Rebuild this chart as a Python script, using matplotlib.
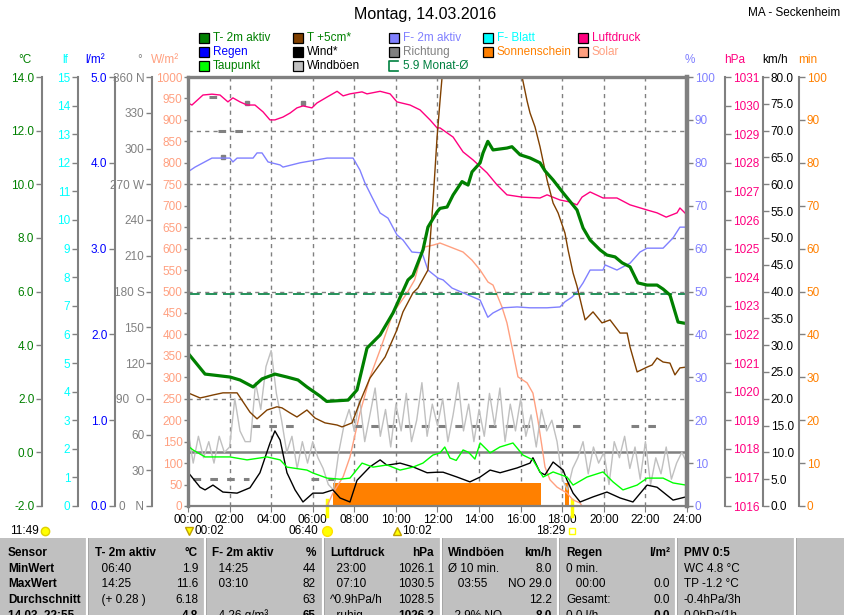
import numpy as np
import matplotlib
matplotlib.use("Agg")
import matplotlib.pyplot as plt
from matplotlib.patches import Rectangle
from matplotlib.lines import Line2D
from matplotlib import transforms

plt.rcParams['font.family'] = ['Liberation Sans', 'DejaVu Sans']
plt.rcParams['font.size'] = 8

# ---------------- data (hours of day / values) ----------------
t2m_t = [0.0, 0.82, 2.02, 2.5, 3.13, 3.56, 4.18, 4.76, 5.29, 5.72, 6.35, 6.67, 7.70, 8.13,
         8.61, 9.24, 9.86, 10.58, 10.82, 11.30, 11.54, 11.98, 12.12, 12.46, 12.75, 13.18,
         13.47, 13.66, 14.05, 14.19, 14.42, 14.67, 15.34, 15.58, 15.97, 16.45, 16.93, 17.17,
         17.56, 18.04, 18.71, 19.0, 19.34, 19.82, 20.15, 20.54, 20.88, 21.26, 21.64, 22.08,
         22.56, 22.85, 23.18, 23.57, 24.0]
t2m_v = [3.7, 2.92, 2.81, 2.70, 2.44, 2.74, 2.92, 2.81, 2.70, 2.44, 2.10, 1.9, 1.95, 2.33,
         3.89, 4.38, 5.2, 6.43, 6.6, 7.55, 8.4, 8.97, 9.1, 9.15, 9.6, 10.1,
         9.97, 10.46, 10.8, 11.17, 11.6, 11.28, 11.35, 11.4, 11.1, 10.98, 10.8, 10.5,
         10.16, 9.68, 9.04, 8.37, 7.92, 7.55, 7.36, 7.29, 7.07, 6.92, 6.32, 6.24,
         6.24, 6.09, 5.87, 4.86, 4.8]

t5_t = [0.0, 0.58, 0.82, 1.20, 1.68, 2.36, 2.98, 3.32, 3.80, 4.28, 4.52, 4.91, 5.24, 5.72,
        6.11, 6.59, 7.17, 7.41, 7.89, 8.27, 8.75, 9.48, 10.05, 10.34, 10.82, 11.06, 11.54,
        11.78, 11.98, 12.12, 12.5, 13.5, 14.5, 15.5, 16.07, 16.31, 16.45, 16.69, 16.93,
        17.27, 17.56, 17.80, 18.13, 18.28, 18.52, 18.71, 18.95, 19.10, 19.48, 19.91, 20.30,
        20.78, 21.12, 21.26, 21.60, 22.08, 22.32, 22.56, 22.85, 23.18, 23.42, 23.66, 23.95]
t5_v = [2.22, 2.03, 2.07, 2.14, 2.22, 2.22, 1.5, 1.25, 1.58, 1.70, 1.66, 1.47, 1.32, 1.58,
        1.28, 1.10, 1.02, 0.95, 1.10, 1.88, 2.77, 3.56, 4.57, 5.24, 5.95, 6.13, 6.8,
        9.3, 11.76, 13.1, 16.5, 18.5, 19.0, 17.0, 14.0, 13.1, 12.66, 12.14, 11.4,
        10.16, 9.3, 8.93, 8.18, 7.55, 6.69, 6.2, 5.42, 4.94, 5.24, 4.83, 4.94,
        4.45, 4.45, 3.93, 3.0, 3.18, 3.26, 3.52, 3.37, 3.33, 2.89, 3.15, 3.18]

tau_t = [0.0, 0.24, 0.82, 1.39, 2.02, 2.84, 3.80, 4.43, 4.76, 5.72, 6.01, 6.69, 7.31, 7.79,
         8.03, 8.37, 8.90, 9.57, 10.20, 10.82, 11.30, 11.78, 12.12, 12.35, 12.60, 12.9,
         13.23, 13.5, 13.8, 14.05, 14.53, 15.0, 15.63, 16.11, 16.59, 17.08, 17.56, 18.23,
         18.52, 19.19, 19.96, 20.44, 20.92, 21.60, 22.08, 22.85, 23.33, 23.95]
tau_v = [0.24, 0.09, -0.17, -0.17, -0.17, -0.28, -0.17, -0.28, -0.55, -0.66, -0.77, -0.96,
         -1.0, -0.96, -0.73, -0.4, -0.55, -0.47, -0.66, -0.55, -0.4, -0.1, -0.02, 0.2,
         -0.21, -0.3, 0.09, 0.0, -0.25, 0.35, -0.02, 0.2, 0.35, -0.1, -0.28, -0.92, -0.73,
         -0.92, -1.22, -0.92, -0.73, -1.1, -1.4, -1.22, -0.96, -0.96, -1.14, -1.22]

hum_t = [0.0, 0.34, 1.15, 2.02, 2.16, 2.36, 3.13, 3.32, 3.56, 3.85, 4.43, 4.57, 5.39, 6.69,
         7.94, 8.27, 8.51, 8.85, 9.24, 9.62, 10.05, 10.34, 10.77, 11.26, 11.54, 12.03, 12.27,
         12.70, 13.23, 14.05, 14.42, 14.67, 15.15, 15.83, 16.45, 17.27, 17.89, 18.13, 18.47,
         18.71, 19.0, 19.34, 19.96, 20.06, 20.63, 21.26, 21.74, 22.08, 22.85, 23.33, 23.66, 24.0]
hum_v = [77.9, 79, 81.1, 81.1, 80.2, 81.1, 81.1, 82.3, 82.3, 80.2, 79.5, 79, 80, 81.1,
         81.1, 78.3, 75.3, 72, 68.3, 67.1, 63.2, 62, 59.2, 59, 55, 53.1, 52.7,
         50.8, 49.7, 48, 44, 45, 46.2, 46.4, 46.2, 46.2, 46.4, 47.6, 48.7,
         49.9, 52, 55, 55, 56.2, 55, 56.6, 59.2, 60.1, 60.1, 62.5, 65, 65]

pres_t = [0.0, 0.19, 0.72, 1.15, 1.54, 1.92, 2.16, 2.5, 2.84, 3.22, 3.61, 3.94, 4.18, 4.57,
          4.91, 5.24, 5.53, 5.96, 6.2, 6.69, 7.17, 7.46, 7.79, 8.37, 8.61, 9.24, 9.72, 10.05,
          10.68, 11.16, 11.64, 11.98, 12.12, 12.75, 13.23, 13.71, 14.38, 14.86, 15.34, 16.07,
          16.93, 17.27, 17.89, 18.37, 18.71, 18.95, 19.34, 19.96, 20.63, 21.26, 22.08, 22.56,
          23.0, 23.52, 23.66, 23.95]
pres_v = [1030.09, 1030.02, 1030.37, 1030.4, 1030.37, 1030.13, 1030.27, 1030.13, 1030.02,
          1030.02, 1029.78, 1029.5, 1029.5, 1029.6, 1029.74, 1029.92, 1029.99, 1029.92,
          1030.09, 1030.3, 1030.5, 1030.34, 1030.41, 1030.48, 1030.41, 1030.5, 1030.41,
          1030.13, 1030.02, 1029.85, 1029.5, 1029.22, 1029.22, 1028.9, 1028.38, 1028.1,
          1027.65, 1027.23, 1026.88, 1026.8, 1026.77, 1026.88, 1026.7, 1026.63, 1026.53,
          1026.8, 1026.98, 1026.77, 1026.77, 1026.53, 1026.35, 1026.25, 1026.1, 1026.25,
          1026.42, 1026.21]

solar_t = [0.0, 6.69, 6.97, 7.46, 7.79, 8.27, 8.75, 9.24, 9.86, 10.53, 10.9, 11.2, 11.40,
           11.78, 12.12, 12.60, 13.23, 13.66, 14.05, 14.43, 14.67, 15.10, 15.34, 15.58, 15.87,
           16.31, 16.59, 16.83, 17.03, 17.17, 17.41, 17.75, 18.23, 18.52, 18.86, 18.95, 24.0]
solar_v = [0, 0, 30, 68, 114, 217, 300, 364, 450, 496, 527, 580, 604,
           608, 613, 604, 592, 573, 550, 522, 515, 464, 427, 371, 301,
           287, 263, 200, 137, 91, 61, 44, 30, 14, 7, 0, 0]

wind_t = [0.0, 0.58, 0.82, 1.20, 1.68, 2.36, 2.98, 3.46, 3.94, 4.18, 4.43, 4.76, 5.15, 5.53,
          6.01, 6.49, 6.97, 7.31, 7.79, 8.13, 8.75, 9.24, 9.57, 10.20, 10.82, 11.50, 11.98,
          12.27, 12.94, 13.56, 14.05, 14.53, 15.01, 15.83, 16.45, 16.59, 16.93, 17.17, 17.56,
          18.04, 18.23, 18.52, 18.86, 19.48, 20.15, 20.78, 21.40, 22.08, 22.56, 23.33, 23.95]
wind_v = [6.3, 3.5, 3.0, 3.9, 2.6, 2.4, 3.4, 6.2, 11.7, 14.0, 12.3, 6.2, 3.0, 0.75,
          2.4, 2.4, 3.0, 1.5, 0.75, 4.8, 7.3, 8.6, 7.6, 8.0, 7.3, 6.2, 6.3,
          6.3, 5.4, 4.5, 5.4, 6.7, 6.2, 7.1, 8.0, 9.0, 6.3, 5.8, 8.2,
          6.7, 4.8, 2.4, 0.75, 1.7, 2.6, 1.5, 0.75, 3.9, 3.5, 1.1, 1.7]

# gusts every 15 minutes
gust_v = [14, 8, 13, 9, 12, 8, 13, 10, 11, 20, 14, 12, 12, 23, 18, 26,
          29, 21, 16, 10, 13, 7, 12, 8, 12, 9, 7, 4, 3, 10, 15, 18,
          14, 20, 12, 17, 22, 13, 18, 11, 19, 14, 21, 12, 16, 23, 13, 19,
          15, 20, 12, 17, 23, 14, 19, 12, 18, 13, 21, 15, 22, 12, 19, 14,
          20, 13, 17, 11, 18, 14, 16, 12, 5, 3, 7, 9, 12, 6, 11, 8,
          10, 4, 12, 9, 13, 7, 11, 5, 12, 4, 9, 6, 11, 5, 8, 10, 8]
gust_t = np.arange(len(gust_v)) * 0.25

# wind direction (degrees), drawn as segments and single readings
dir_start = [0.25, 1.0, 1.45, 3.1, 5.9, 8.0, 21.3]
dir_end = [2.95, 1.7, 2.75, 5.2, 7.5, 19.3, 22.6]
dir_deg = [23, 343, 315, 67, 23, 67, 67]
dir_pt_t = [1.68, 2.84, 5.53]
dir_pt_deg = [293, 338, 338]

# sunshine minutes
sun_start = [6.97, 18.15]
sun_end = [16.98, 18.33]
sun_min = [5.4, 5.4]

month_avg = 5.9
sunrise, sunset = 6 + 40 / 60, 18 + 29 / 60
moonset, moonrise = 2 / 60, 10 + 2 / 60

# ---------------- figure ----------------
W, H = 845, 615


def fx(x):
    return x / W


def fy(y):
    return 1 - y / H


GREY = '#808080'
fig = plt.figure(figsize=(W / 100, H / 100), dpi=100)
ax = fig.add_axes([fx(188), fy(506), (687 - 188) / W, (506 - 77) / H])
ax.set_xlim(0, 24)
ax.set_yticks([])
hours = list(range(0, 25, 2))
ax.set_xticks(hours)
ax.set_xticklabels([f"{h:02d}:00" for h in hours])
ax.tick_params(axis='x', colors=GREY, labelcolor='black', length=4, pad=2, labelsize=8.5)
ax.grid(axis='x', color=GREY, ls=(0, (3, 3)), lw=1)
for s in ax.spines.values():
    s.set_visible(False)


def make_axis(side, pos, ylim, ticks, labels, color, spine=True):
    a = ax.twinx()
    a.set_ylim(*ylim)
    for s in a.spines.values():
        s.set_visible(False)
    sp = a.spines[side]
    sp.set_visible(spine)
    sp.set_position(('axes', pos))
    sp.set_color(GREY)
    sp.set_linewidth(1.5)
    a.yaxis.set_ticks_position(side)
    a.set_yticks(ticks)
    a.set_yticklabels(labels)
    a.tick_params(axis='y', colors=GREY, labelcolor=color, length=4, width=1,
                  labelsize=8.5, pad=1.5)
    return a


# horizontal grid follows the temperature scale
t_lim = (-2, 14)
t_ticks = list(range(-2, 15, 2))
for v in t_ticks[1:-1]:
    frac = (v - t_lim[0]) / (t_lim[1] - t_lim[0])
    if v == 0:
        ax.plot([0, 1], [frac, frac], transform=ax.transAxes, color=GREY, lw=1.8)
    else:
        ax.plot([0, 1], [frac, frac], transform=ax.transAxes, color=GREY, lw=1,
                ls=(0, (3, 3)))

# sunshine minutes (right, orange)
m_ticks = list(range(0, 101, 10))
ax_min = make_axis('right', 1.2244, (0, 100), m_ticks, [str(v) for v in m_ticks], '#FF8000')
ax_min.bar(sun_start, np.array(sun_min), width=np.array(sun_end) - np.array(sun_start),
           align='edge', color='#FF8000', lw=0)
ax_min.axhline(0, color='#FF8000', ls=(0, (1, 1.5)), lw=1)

# solar (left, plot edge)
s_ticks = list(range(0, 1001, 50))
ax_sol = make_axis('left', 0.0, (0, 1000), s_ticks, [str(v) for v in s_ticks], '#FFA080',
                   spine=False)
ax_sol.tick_params(axis='y', length=3, pad=1)
ax_sol.plot(solar_t, solar_v, color='#FFA080', lw=1)

# unused scales: leaf wetness, rain
lf_ticks = list(range(0, 16))
make_axis('left', (78 - 188) / 499, (0, 15), lf_ticks, [str(v) for v in lf_ticks], '#00FFFF')
r_ticks = list(range(0, 6))
make_axis('left', (115 - 188) / 499, (0, 5), r_ticks, [f"{v:.1f}" for v in r_ticks], '#0000FF')

# wind direction
d_ticks = list(range(0, 361, 30))
d_labels = ["0   N", "30", "60", "90  O", "120", "150", "180 S", "210", "240", "270 W",
            "300", "330", "360 N"]
ax_dir = make_axis('left', (152 - 188) / 499, (0, 360), d_ticks, d_labels, GREY)
ax_dir.hlines(dir_deg, dir_start, dir_end, colors=GREY, lw=2.2, linestyles=(0, (2.5, 3)))
ax_dir.plot(dir_pt_t, dir_pt_deg, 's', color=GREY, ms=2.2)

# wind speed / gusts
k_ticks = list(range(0, 81, 5))
ax_kmh = make_axis('right', (763 - 188) / 499, (0, 80), k_ticks,
                   [f"{v:.1f}" for v in k_ticks], 'black')
ax_kmh.plot(gust_t, gust_v, color='#C0C0C0', lw=1)
ax_kmh.plot(wind_t, wind_v, color='black', lw=1)

# humidity
h_ticks = list(range(0, 101, 10))
ax_hum = make_axis('right', 1.0, (0, 100), h_ticks, [str(v) for v in h_ticks], '#8080FF',
                   spine=False)
ax_hum.plot(hum_t, hum_v, color='#8080FF', lw=1)

# pressure
p_ticks = list(range(1016, 1032))
ax_p = make_axis('right', (725 - 188) / 499, (1016, 1031), p_ticks, [str(v) for v in p_ticks],
                 '#FF0080')
ax_p.plot(pres_t, pres_v, color='#FF0080', lw=1)

# temperatures
ax_t = make_axis('left', (42 - 188) / 499, t_lim, t_ticks, [f"{v:.1f}" for v in t_ticks],
                 '#008000')
ax_t.axhline(month_avg, color='#008040', lw=1.2, ls=(0, (7, 3.5)))
ax_t.plot(tau_t, tau_v, color='#00FF00', lw=1)
ax_t.plot(t5_t, t5_v, color='#804000', lw=1)
ax_t.plot(t2m_t, t2m_v, color='#008000', lw=2.3)

# plot frame
for (xs, ys, lw) in [([0, 0], [0, 1], 2.4), ([0, 1], [1, 1], 2.4),
                     ([1, 1], [0, 1], 3.2), ([0, 1], [0, 0], 1.6)]:
    ax_t.plot(xs, ys, transform=ax_t.transAxes, color=GREY, lw=lw, clip_on=False,
              solid_capstyle='projecting')

# sunrise / sunset marks under the axis
below = transforms.blended_transform_factory(ax.transData, fig.transFigure)
for tt in (sunrise, sunset):
    ax.plot([tt, tt], [fy(500), fy(516)], transform=below, color='#FFFF00', lw=2.5,
            clip_on=False)

# ---------------- texts ----------------
fig.text(fx(425), fy(15), "Montag, 14.03.2016", ha='center', va='center', fontsize=11.5)
fig.text(fx(794), fy(13), "MA - Seckenheim", ha='center', va='center', fontsize=8.5)

units = [(25, "°C", '#008000'), (65, "lf", '#00FFFF'), (95, "l/m²", '#0000FF'),
         (140, "°", GREY), (165, "W/m²", '#FFA080'), (690, "%", '#8080FF'),
         (735, "hPa", '#FF0080'), (775, "km/h", 'black'), (808, "min", '#FF8000')]
for x, s, c in units:
    fig.text(fx(x), fy(60), s, ha='center', va='center', color=c, fontsize=8.5)

legend_cols = [199, 293, 389, 483, 578]
legend_rows = [38, 52, 66]
legend = [
    [("T- 2m aktiv", '#008000', '#008000'), ("Regen", '#0000FF', '#0000FF'),
     ("Taupunkt", '#00FF00', '#008000')],
    [("T +5cm*", '#804000', '#008000'), ("Wind*", 'black', 'black'),
     ("Windböen", '#C0C0C0', 'black')],
    [("F- 2m aktiv", '#8080FF', '#8080FF'), ("Richtung", GREY, GREY),
     ("5.9 Monat-Ø", None, '#008040')],
    [("F- Blatt", '#00FFFF', '#00FFFF'), ("Sonnenschein", '#FF8000', '#FF8000')],
    [("Luftdruck", '#FF0080', '#FF0080'), ("Solar", '#FFA080', '#FFA080')],
]
for cx, items in zip(legend_cols, legend):
    for ry, (label, fc, tc) in zip(legend_rows, items):
        if fc is None:
            xs = [fx(cx + 9), fx(cx), fx(cx), fx(cx + 9)]
            ys = [fy(ry - 5), fy(ry - 5), fy(ry + 5), fy(ry + 5)]
            fig.add_artist(Line2D(xs, ys, color=tc, lw=1.2))
        else:
            fig.add_artist(Rectangle((fx(cx), fy(ry + 5)), 10 / W, 10 / H, facecolor=fc,
                                     edgecolor='black', lw=0.9, transform=fig.transFigure))
        fig.text(fx(cx + 14), fy(ry), label, ha='left', va='center', color=tc, fontsize=8.5)

# sun / moon times below the axis
ty = fy(531)
fig.text(fx(10), ty, "11:49", ha='left', va='center', fontsize=8.5)
fig.add_artist(Line2D([fx(45)], [ty], marker='o', ms=6, color='#FFFF00', mec='#E0D000'))
ax.plot([moonset], [ty], transform=below, marker='v', ms=6, color='#FFFF00', mec='#C0A000',
        clip_on=False)
ax.annotate("00:02", (moonset, ty), xycoords=below, xytext=(4, 0), textcoords='offset points',
            ha='left', va='center', fontsize=8.5)
ax.plot([sunrise], [ty], transform=below, marker='o', ms=7, color='#FFFF00', mec='#FFE000',
        clip_on=False)
ax.annotate("06:40", (sunrise, ty), xycoords=below, xytext=(-6, 0), textcoords='offset points',
            ha='right', va='center', fontsize=8.5)
ax.plot([moonrise], [ty], transform=below, marker='^', ms=6, color='#FFFF00', mec='#C0A000',
        clip_on=False)
ax.annotate("10:02", (moonrise, ty), xycoords=below, xytext=(4, 0), textcoords='offset points',
            ha='left', va='center', fontsize=8.5)
ax.plot([sunset], [ty], transform=below, marker='s', ms=5, mfc='white', mec='#FFFF00',
        clip_on=False)
ax.annotate("18:29", (sunset, ty), xycoords=below, xytext=(-5, 0), textcoords='offset points',
            ha='right', va='center', fontsize=8.5)

# ---------------- statistics table ----------------
fig.add_artist(Rectangle((0, 0), 1, (H - 538) / H, facecolor='#C0C0C0', lw=0,
                         transform=fig.transFigure))
for x in [87, 205, 323, 441, 558, 676, 795]:
    fig.add_artist(Line2D([fx(x), fx(x)], [0, fy(538)], color='white', lw=1.6))
    fig.add_artist(Line2D([fx(x + 1.5), fx(x + 1.5)], [0, fy(538)], color='#A0A0A0', lw=0.6))

tbl_left_x = [8, 95, 212, 330, 448, 566, 684]
tbl_right_x = [None, 198, 316, 434, 552, 670, None]
tbl_rows_y = [553, 569, 584, 600, 616]
tbl_left = [
    ["Sensor", "MinWert", "MaxWert", "Durchschnitt", "14.03. 22:55"],
    ["T- 2m aktiv", "  06:40", "  14:25", "  (+ 0.28 )", ""],
    ["F- 2m aktiv", "  14:25", "  03:10", "", "  4.26 g/m³"],
    ["Luftdruck", "  23:00", "  07:10", "^0.9hPa/h", "  ruhig"],
    ["Windböen", "Ø 10 min.", "   03:55", "", "  2.9% NO"],
    ["Regen", "0 min.", "   00:00", "Gesamt:", "0.0 l/h"],
    ["PMV 0:5", "WC 4.8 °C", "TP -1.2 °C", "-0.4hPa/3h", "0.0hPa/1h"],
]
tbl_right = [
    None,
    ["°C", "1.9", "11.6", "6.18", "4.8"],
    ["%", "44", "82", "63", "65"],
    ["hPa", "1026.1", "1030.5", "1028.5", "1026.3"],
    ["km/h", "8.0", "NO 29.0", "12.2", "8.0"],
    ["l/m²", "", "0.0", "0.0", "0.0"],
    None,
]
for ci, (lx, rx) in enumerate(zip(tbl_left_x, tbl_right_x)):
    for ri, y in enumerate(tbl_rows_y):
        bold_left = ri == 0 or ci == 0
        fig.text(fx(lx), fy(y), tbl_left[ci][ri], ha='left', va='center', fontsize=8.5,
                 fontweight='bold' if bold_left else 'normal')
        if rx is not None:
            bold_right = ri == 0 or ri == 4
            fig.text(fx(rx), fy(y), tbl_right[ci][ri], ha='right', va='center', fontsize=8.5,
                     fontweight='bold' if bold_right else 'normal')

fig.savefig("out.png", dpi=100)
